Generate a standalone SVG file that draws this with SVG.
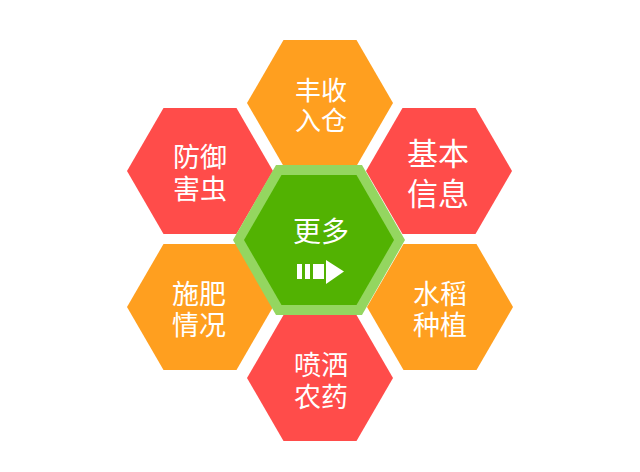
<svg xmlns="http://www.w3.org/2000/svg" xmlns:xlink="http://www.w3.org/1999/xlink" width="640" height="472" viewBox="0 0 640 472">
<style>
.orange{fill:#FF9F1F}
.red{fill:#FF4C4A}
.lbl{fill:#fff;font-family:"Noto Sans CJK SC","Noto Sans",sans-serif;text-anchor:middle;dominant-baseline:central}
</style>
<defs>
<polygon id="hex" points="-73,0 -36.5,-63 36.5,-63 73,0 36.5,63 -36.5,63"/>
</defs>
<rect width="640" height="472" fill="#fff"/>
<g id="n-top">
<use xlink:href="#hex" class="orange" transform="translate(320,103)"/>
<text class="lbl" font-size="26"><tspan x="321" y="88">丰收</tspan><tspan x="321" y="118">入仓</tspan></text>
</g>
<g id="n-lefttop">
<use xlink:href="#hex" class="red" transform="translate(200,171)"/>
<text class="lbl" font-size="27"><tspan x="200" y="155">防御</tspan><tspan x="200" y="187">害虫</tspan></text>
</g>
<g id="n-righttop">
<use xlink:href="#hex" class="red" transform="translate(439,171)"/>
<text class="lbl" font-size="31"><tspan x="438" y="151">基本</tspan><tspan x="438" y="191">信息</tspan></text>
</g>
<g id="n-leftbottom">
<use xlink:href="#hex" class="orange" transform="translate(200,307)"/>
<text class="lbl" font-size="27"><tspan x="199" y="292">施肥</tspan><tspan x="199" y="323">情况</tspan></text>
</g>
<g id="n-rightbottom">
<use xlink:href="#hex" class="orange" transform="translate(440,307)"/>
<text class="lbl" font-size="27"><tspan x="440" y="292">水稻</tspan><tspan x="440" y="323">种植</tspan></text>
</g>
<g id="n-bottom">
<use xlink:href="#hex" class="red" transform="translate(320,378)"/>
<text class="lbl" font-size="27"><tspan x="321" y="363">喷洒</tspan><tspan x="321" y="395">农药</tspan></text>
</g>
<g id="n-center">
<polygon points="233,240 276,165 362,165 405,240 362,315 276,315" fill="#94D660"/>
<polygon points="244,240 281.5,175 356.5,175 394,240 356.5,305 281.5,305" fill="#52B202"/>
<text class="lbl" x="321" y="230" font-size="28">更多</text>
<g fill="#fff">
<rect x="297" y="264" width="5" height="15"/>
<rect x="305" y="264" width="5" height="15"/>
<rect x="313" y="264" width="11" height="15"/>
<polygon points="326,260 344,271.5 326,284"/>
</g>
</g>
<g id="connectors"/>
</svg>
